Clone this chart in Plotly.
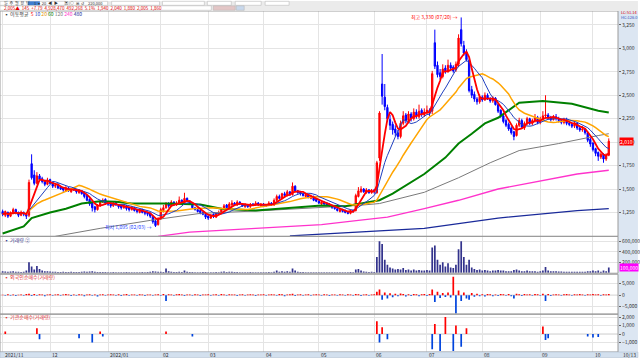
import plotly.graph_objects as go
import pandas as pd

# ---------------- data ----------------
month_idx = [0, 18, 40, 60, 78, 99, 120, 141, 161, 182, 204, 224]
month_lbl = ["2021/11", "12", "2022/01", "02", "03", "04", "05", "06", "07", "08", "09", "10"]

close = [1230, 1260, 1210, 1250, 1280, 1240, 1220, 1250, 1230, 1210,
         1570, 1620, 1560, 1640, 1600, 1580, 1550, 1590, 1560, 1530,
         1540, 1510, 1500, 1490, 1510, 1480, 1500, 1490, 1470, 1480,
         1450, 1420, 1380, 1340, 1300, 1280, 1330, 1360, 1380, 1350,
         1340, 1320, 1350, 1330, 1310, 1300, 1320, 1290, 1280, 1300,
         1270, 1260, 1280, 1250, 1240, 1230, 1210, 1150, 1110, 1180,
         1280, 1300, 1340, 1320, 1360, 1330, 1350, 1380, 1360, 1400,
         1370, 1340, 1300, 1280, 1260, 1250, 1230, 1200, 1190, 1220,
         1210, 1240, 1250, 1280, 1320, 1300, 1340, 1350, 1330, 1360,
         1340, 1320, 1330, 1310, 1340, 1330, 1350, 1330, 1340, 1320,
         1330, 1350, 1330, 1380, 1420, 1400, 1450, 1430, 1470, 1440,
         1530, 1480, 1460, 1450, 1430, 1440, 1410, 1420, 1380, 1370,
         1350, 1360, 1340, 1330, 1320, 1300, 1290, 1270, 1280, 1260,
         1250, 1240, 1270, 1260, 1430, 1480, 1500, 1470, 1490, 1460,
         1480, 1470, 1780, 2310, 2490, 2380, 2250, 2180, 2130, 2100,
         2060, 2200, 2280, 2230, 2300, 2250, 2320, 2280, 2330, 2300,
         2320, 2340, 2310, 2730, 2810, 2720, 2700, 2780, 2760, 2820,
         2790, 2760, 2830, 3110, 3050, 2950, 2880, 2550, 2500, 2460,
         2430, 2480, 2450, 2500, 2460, 2440, 2470, 2400, 2330, 2280,
         2220, 2180, 2140, 2100, 2060, 2180, 2230, 2160, 2200, 2250,
         2200, 2230, 2260, 2210, 2250, 2280, 2290, 2260, 2240, 2270,
         2250, 2230, 2210, 2240, 2200, 2190, 2170, 2200, 2150, 2130,
         2140, 2100, 2020, 1980, 1920, 1880, 1850, 1870, 1820, 1860, 2010]

open_ = [1260, 1220, 1250, 1210, 1240, 1280, 1250, 1220, 1250, 1230,
         1220, 1770, 1650, 1560, 1640, 1610, 1590, 1550, 1600, 1570,
         1530, 1550, 1520, 1510, 1480, 1510, 1470, 1510, 1490, 1460,
         1480, 1460, 1430, 1390, 1350, 1310, 1280, 1320, 1360, 1390,
         1350, 1350, 1320, 1360, 1330, 1320, 1300, 1320, 1300, 1280,
         1300, 1280, 1250, 1280, 1260, 1250, 1240, 1210, 1160, 1120,
         1180, 1270, 1300, 1340, 1320, 1360, 1330, 1350, 1380, 1350,
         1400, 1370, 1340, 1300, 1280, 1270, 1250, 1230, 1210, 1190,
         1230, 1200, 1240, 1250, 1280, 1330, 1300, 1330, 1350, 1330,
         1360, 1340, 1310, 1330, 1310, 1340, 1330, 1350, 1320, 1340,
         1320, 1330, 1350, 1330, 1380, 1420, 1400, 1450, 1430, 1470,
         1440, 1530, 1480, 1470, 1450, 1420, 1440, 1400, 1420, 1390,
         1370, 1340, 1360, 1350, 1340, 1320, 1310, 1290, 1260, 1280,
         1270, 1250, 1240, 1270, 1270, 1420, 1470, 1500, 1460, 1490,
         1460, 1490, 1460, 1830, 2620, 2480, 2370, 2240, 2190, 2140,
         2100, 2060, 2200, 2290, 2230, 2300, 2250, 2320, 2270, 2340,
         2290, 2320, 2340, 2330, 3060, 2820, 2740, 2700, 2790, 2760,
         2820, 2800, 2770, 2830, 3200, 3030, 2960, 2870, 2560, 2510,
         2460, 2430, 2480, 2450, 2500, 2460, 2440, 2470, 2400, 2340,
         2280, 2230, 2190, 2150, 2110, 2070, 2180, 2230, 2150, 2200,
         2250, 2200, 2230, 2260, 2210, 2250, 2280, 2290, 2260, 2240,
         2270, 2250, 2230, 2210, 2240, 2200, 2190, 2170, 2200, 2150,
         2130, 2140, 2100, 2030, 1990, 1930, 1890, 1840, 1870, 1820, 1860]

high = [1280, 1270, 1260, 1260, 1300, 1290, 1260, 1270, 1260, 1240,
        1600, 1870, 1700, 1680, 1660, 1630, 1600, 1620, 1610, 1580,
        1560, 1560, 1530, 1520, 1530, 1520, 1510, 1520, 1500, 1500,
        1490, 1470, 1440, 1400, 1360, 1320, 1340, 1380, 1400, 1400,
        1370, 1360, 1370, 1370, 1340, 1330, 1340, 1330, 1310, 1320,
        1310, 1290, 1290, 1290, 1270, 1260, 1250, 1220, 1170, 1200,
        1300, 1330, 1360, 1360, 1380, 1370, 1370, 1420, 1390, 1460,
        1410, 1380, 1350, 1310, 1300, 1280, 1260, 1240, 1220, 1230,
        1240, 1250, 1270, 1300, 1340, 1340, 1360, 1380, 1360, 1380,
        1370, 1350, 1350, 1340, 1350, 1350, 1370, 1360, 1350, 1350,
        1340, 1370, 1360, 1400, 1440, 1440, 1460, 1470, 1490, 1480,
        1570, 1540, 1490, 1480, 1460, 1450, 1450, 1440, 1430, 1400,
        1380, 1370, 1370, 1360, 1350, 1330, 1320, 1300, 1290, 1290,
        1280, 1260, 1280, 1280, 1450, 1520, 1530, 1510, 1510, 1500,
        1500, 1500, 1800, 2330, 2940, 2620, 2400, 2290, 2220, 2180,
        2130, 2230, 2330, 2310, 2330, 2320, 2360, 2350, 2400, 2360,
        2360, 2390, 2360, 2760, 3200, 2860, 2780, 2830, 2820, 2880,
        2850, 2820, 2860, 3150, 3330, 3080, 2990, 2890, 2600, 2540,
        2480, 2510, 2500, 2530, 2520, 2480, 2490, 2480, 2410, 2350,
        2300, 2250, 2210, 2170, 2120, 2200, 2260, 2250, 2220, 2270,
        2260, 2250, 2300, 2280, 2270, 2330, 2500, 2310, 2280, 2290,
        2300, 2270, 2250, 2260, 2260, 2220, 2210, 2230, 2210, 2170,
        2170, 2150, 2110, 2050, 2000, 1940, 1900, 1890, 1880, 1880, 2040]

low = [1210, 1200, 1190, 1200, 1230, 1230, 1200, 1210, 1210, 1180,
       1200, 1600, 1540, 1550, 1580, 1560, 1530, 1540, 1550, 1510,
       1510, 1500, 1490, 1470, 1470, 1470, 1460, 1480, 1450, 1450,
       1440, 1400, 1370, 1320, 1260, 1250, 1270, 1310, 1350, 1330,
       1320, 1300, 1310, 1320, 1290, 1280, 1290, 1270, 1260, 1270,
       1260, 1240, 1240, 1240, 1220, 1210, 1190, 1130, 1095, 1110,
       1170, 1250, 1290, 1300, 1310, 1320, 1320, 1340, 1340, 1340,
       1360, 1330, 1290, 1270, 1250, 1230, 1220, 1180, 1170, 1180,
       1190, 1190, 1230, 1240, 1270, 1290, 1290, 1320, 1320, 1320,
       1330, 1310, 1300, 1300, 1300, 1320, 1320, 1320, 1310, 1310,
       1310, 1320, 1320, 1320, 1370, 1390, 1390, 1420, 1420, 1430,
       1430, 1470, 1450, 1430, 1420, 1410, 1400, 1390, 1370, 1360,
       1340, 1330, 1330, 1320, 1310, 1290, 1280, 1260, 1250, 1250,
       1240, 1230, 1230, 1250, 1260, 1410, 1460, 1460, 1450, 1450,
       1450, 1450, 1450, 1800, 2400, 2340, 2220, 2130, 2080, 2060,
       2030, 2040, 2180, 2200, 2200, 2220, 2230, 2250, 2250, 2270,
       2270, 2300, 2280, 2300, 2780, 2690, 2670, 2680, 2730, 2740,
       2760, 2740, 2750, 2800, 3020, 2920, 2860, 2530, 2470, 2430,
       2400, 2410, 2430, 2440, 2450, 2420, 2420, 2390, 2310, 2260,
       2200, 2160, 2120, 2080, 2020, 2060, 2160, 2140, 2130, 2180,
       2180, 2180, 2210, 2190, 2190, 2240, 2260, 2240, 2220, 2230,
       2230, 2210, 2190, 2190, 2180, 2170, 2150, 2150, 2130, 2110,
       2110, 2080, 2000, 1950, 1900, 1850, 1800, 1820, 1780, 1800, 1850]

volume = [30000, 25000, 20000, 25000, 30000, 20000, 20000, 15000, 20000, 40000,
          200000, 120000, 60000, 130000, 70000, 40000, 30000, 30000, 25000, 20000,
          20000, 15000, 15000, 20000, 15000, 15000, 20000, 15000, 15000, 15000,
          20000, 25000, 20000, 25000, 30000, 20000, 15000, 15000, 15000, 15000,
          10000, 10000, 15000, 10000, 10000, 10000, 10000, 15000, 10000, 10000,
          10000, 10000, 10000, 15000, 10000, 15000, 20000, 30000, 25000, 20000,
          20000, 15000, 80000, 30000, 20000, 15000, 15000, 20000, 15000, 40000,
          20000, 15000, 15000, 10000, 10000, 10000, 15000, 15000, 10000, 10000,
          10000, 15000, 10000, 20000, 25000, 15000, 20000, 20000, 15000, 15000,
          10000, 10000, 10000, 10000, 15000, 10000, 10000, 10000, 10000, 10000,
          10000, 15000, 10000, 20000, 40000, 20000, 30000, 20000, 30000, 20000,
          80000, 40000, 20000, 15000, 15000, 10000, 10000, 10000, 10000, 10000,
          10000, 10000, 10000, 10000, 10000, 10000, 10000, 10000, 10000, 10000,
          10000, 10000, 15000, 10000, 60000, 70000, 40000, 25000, 20000, 15000,
          20000, 15000, 300000, 600000, 550000, 250000, 150000, 100000, 80000, 60000,
          70000, 60000, 90000, 50000, 60000, 40000, 60000, 40000, 50000, 40000,
          40000, 50000, 40000, 480000, 520000, 250000, 150000, 200000, 120000, 180000,
          100000, 90000, 150000, 450000, 600000, 300000, 150000, 250000, 100000, 70000,
          50000, 60000, 40000, 50000, 40000, 30000, 40000, 40000, 50000, 40000,
          40000, 30000, 30000, 30000, 50000, 60000, 40000, 30000, 30000, 40000,
          30000, 30000, 30000, 20000, 30000, 40000, 110000, 40000, 30000, 30000,
          30000, 25000, 25000, 20000, 20000, 20000, 20000, 20000, 20000, 20000,
          20000, 20000, 30000, 30000, 40000, 30000, 40000, 20000, 40000, 30000, 100000]

foreign = [200, -300, 400, -200, 300, -400, 200, 300, -300, 500,
           600, -400, 500, -300, 400, 300, -500, 300, 400, -300,
           300, 400, -300, 300, 500, 300, -400, 300, -300, 400,
           300, -500, 300, 400, -300, 300, -600, 300, 400, -300,
           300, 400, 300, -300, 400, -400, 300, 500, -300, 300,
           300, -300, 400, 300, -400, 300, 300, -300, 300, 400,
           -300, 500, -2500, 400, 300, -300, 400, 500, 300, -400,
           300, 300, -300, 400, 300, -400, 300, 300, 400, -300,
           300, 400, -300, 500, 300, -300, 400, 300, 300, -400,
           300, 400, -300, 300, 400, 300, -400, 300, 300, 400,
           -300, 300, 400, 300, -300, 500, 400, -500, 300, 400,
           600, -400, 300, 400, -300, 300, 400, -300, 300, 400,
           300, -300, 400, 300, -400, 300, 300, -300, 400, 300,
           -300, 400, 300, -300, 500, 400, -400, 300, 400, -300,
           300, 400, 1500, 2500, -2000, 1200, -1500, 800, -900, 600,
           -500, 700, 500, -600, 400, -400, 500, 400, -500, 400,
           500, -400, 500, 2500, -3000, 1500, -1200, 1000, -800, 1200,
           -1000, 8000, -8000, 2000, -2500, 1200, -1500, -2000, 900, -700,
           600, -500, 400, -600, 500, 400, -500, 300, -400, 500,
           400, -300, 500, -500, -1500, 600, 400, -400, 500, 300,
           400, -300, 500, 400, -300, 600, -2500, 500, -400, 300,
           400, 300, -300, 400, 500, 300, -300, 400, 300, 500,
           300, -300, 400, 300, 500, 300, 400, -300, 400, 300, 500]

inst_idx = [1, 13, 14, 29, 34, 37, 38, 62, 72, 142, 143, 144, 146, 163, 164, 166, 168, 171, 172, 174, 176, 205, 206, 207, 222, 224, 226]
inst_val = [300, 700, -600, -500, -1000, 300, -300, 300, -300, 1500, -1000, 800, -600, -1800, 1200, -2000, 2000, -2000, 1000, -1500, 700, 900, -700, -500, -300, -400, -350]

ma60_idx = [0, 8, 11, 18, 24, 30, 37, 43, 49, 62, 75, 83, 96, 109, 121, 130, 136, 143, 148, 160, 168, 173, 178, 183, 188, 196, 205, 216, 226, 230]
ma60_val = [1025, 1100, 1190, 1250, 1290, 1345, 1370, 1365, 1345, 1345, 1335, 1290, 1270, 1300, 1325, 1315, 1345, 1380, 1450, 1660, 1835, 1985, 2090, 2200, 2260, 2420, 2440, 2410, 2335, 2315]
ma120_idx = [20, 37, 56, 75, 96, 121, 135, 143, 160, 173, 185, 196, 211, 226, 230]
ma120_val = [995, 1080, 1165, 1240, 1265, 1300, 1325, 1345, 1465, 1620, 1780, 1910, 1985, 2070, 2090]
ma240_idx = [59, 71, 96, 121, 135, 146, 160, 173, 188, 203, 218, 230]
ma240_val = [995, 1040, 1080, 1120, 1165, 1200, 1290, 1380, 1500, 1580, 1660, 1700]
ma480_idx = [109, 135, 160, 188, 218, 230]
ma480_val = [1000, 1040, 1080, 1190, 1270, 1290]

price_ticks = [1250, 1500, 1750, 2000, 2250, 2500, 2750, 3000, 3250]
vol_ticks = [200000, 400000, 600000]
for_ticks = [-5000, 0, 5000]
inst_ticks = [-1000, 0, 1000, 2000]

# ---------------- figure ----------------
FONT = "Noto Sans CJK KR"
N = len(close)
x = list(range(N))

def py(px):
    return 1 - px / 360.0

def pxx(px):
    return px / 620.0

fig = go.Figure()

fig.add_trace(go.Candlestick(
    x=x, open=open_, high=high, low=low, close=close,
    increasing=dict(line=dict(color="#ff0000", width=1), fillcolor="#ff0000"),
    decreasing=dict(line=dict(color="#0000ff", width=1), fillcolor="#0000ff"),
    whiskerwidth=0, xaxis="x", yaxis="y", showlegend=False, hoverinfo="skip"))

s = pd.Series(close, dtype=float)
ma5 = s.rolling(5, min_periods=1).mean()
ma10 = s.rolling(10, min_periods=1).mean()
ma20 = s.rolling(20, min_periods=1).mean()

def line(xs, ys, color, width):
    fig.add_trace(go.Scatter(x=xs, y=ys, mode="lines", line=dict(color=color, width=width),
                             xaxis="x", yaxis="y", showlegend=False, hoverinfo="skip"))

line(ma480_idx, ma480_val, "#1a2a9a", 1.3)
line(ma240_idx, ma240_val, "#ff33cc", 1.3)
line(ma120_idx, ma120_val, "#7a7a7a", 1)
line(ma60_idx, ma60_val, "#008000", 2)
line(x, ma20, "#ffa500", 1.5)
line(x, ma10, "#1f3fbf", 1)
line(x, ma5, "#ff0000", 1.8)

fig.add_trace(go.Bar(x=x, y=volume, marker=dict(color="#33338c", line=dict(width=0)),
                     xaxis="x2", yaxis="y2", showlegend=False, hoverinfo="skip"))
fig.add_trace(go.Bar(x=x, y=foreign,
                     marker=dict(color=["#ff0000" if v >= 0 else "#0044dd" for v in foreign], line=dict(width=0)),
                     xaxis="x3", yaxis="y3", showlegend=False, hoverinfo="skip"))
fig.add_trace(go.Bar(x=inst_idx, y=inst_val,
                     marker=dict(color=["#ff0000" if v >= 0 else "#0044dd" for v in inst_val], line=dict(width=0)),
                     xaxis="x4", yaxis="y4", showlegend=False, hoverinfo="skip"))

xr = [-1, 233.5]
xcommon = dict(range=xr, tickvals=month_idx, showticklabels=False, showgrid=True,
               gridcolor="#e4e4e4", gridwidth=1, zeroline=False, ticks="", fixedrange=True,
               showline=False)
ycommon = dict(side="right", showgrid=True, gridcolor="#e4e4e4", zeroline=False,
               ticks="outside", ticklen=2, tickcolor="#666", tickformat=",",
               tickfont=dict(size=5, color="#333", family=FONT), showline=False, fixedrange=True)

fig.update_layout(
    width=640, height=360, margin=dict(l=0, r=20, t=0, b=0),
    paper_bgcolor="white", plot_bgcolor="white", bargap=0.35,
    font=dict(family=FONT, size=5, color="#333"),
    xaxis=dict(xcommon, domain=[0, 1], anchor="y", rangeslider=dict(visible=False)),
    xaxis2=dict(xcommon, domain=[0, 1], anchor="y2", matches="x"),
    xaxis3=dict(xcommon, domain=[0, 1], anchor="y3", matches="x"),
    xaxis4=dict(xcommon, domain=[0, 1], anchor="y4", matches="x"),
    yaxis=dict(ycommon, domain=[py(236), py(10)], range=[995, 3399], tickvals=price_ticks),
    yaxis2=dict(ycommon, domain=[py(273), py(236)], range=[-10000, 695000], tickvals=vol_ticks),
    yaxis3=dict(ycommon, domain=[py(314), py(274)], range=[-8260, 9130], tickvals=for_ticks),
    yaxis4=dict(ycommon, domain=[py(352), py(314)], range=[-2118, 2353], tickvals=inst_ticks),
)

shapes = []
ann = []

# right axis background
shapes.append(dict(type="rect", xref="paper", yref="paper", x0=1, x1=640 / 620, y0=py(352), y1=py(10),
                   fillcolor="#dce6f2", line=dict(width=0), layer="below"))
# panel frames
for top, bot in [(10, 236), (236, 273), (274, 314), (314, 352)]:
    shapes.append(dict(type="rect", xref="paper", yref="paper", x0=0, x1=1, y0=py(bot), y1=py(top),
                       line=dict(color="#9a9a9a", width=1), fillcolor="rgba(0,0,0,0)", layer="above"))
# zero lines for bar panels
for ya in ["y3", "y4"]:
    shapes.append(dict(type="line", xref="paper", yref=ya, x0=0, x1=1, y0=0, y1=0,
                       line=dict(color="#c8c8c8", width=1), layer="below"))
# x-axis label strip
shapes.append(dict(type="rect", xref="paper", yref="paper", x0=0, x1=640 / 620, y0=py(357.5), y1=py(352),
                   fillcolor="#d3e0ee", line=dict(color="#a8b8cc", width=0.5)))
for mi, lab in zip(month_idx, month_lbl):
    ann.append(dict(x=mi, xref="x", y=py(354.8), yref="paper", text=lab, showarrow=False,
                    xanchor="left", yanchor="middle", xshift=0, font=dict(size=5, color="#333")))
ann.append(dict(x=1.005, xref="paper", y=py(354.8), yref="paper", text="10/13", showarrow=False,
                xanchor="left", yanchor="middle", font=dict(size=5, color="#333")))

# top toolbar
shapes.append(dict(type="rect", xref="paper", yref="paper", x0=0, x1=640 / 620, y0=py(10), y1=py(0),
                   fillcolor="#ebebeb", line=dict(width=0)))
for a, b in [(0, 50), (52, 66), (70, 108), (112, 160), (163, 205), (208, 232), (236, 262), (266, 290)]:
    shapes.append(dict(type="rect", xref="paper", yref="paper", x0=pxx(a), x1=pxx(b), y0=py(4.3), y1=py(0.3),
                       fillcolor="white", line=dict(color="#b0b0b0", width=0.5)))
shapes.append(dict(type="rect", xref="paper", yref="paper", x0=pxx(28), x1=pxx(40), y0=py(4.3), y1=py(0.3),
                   fillcolor="#3f7fd0", line=dict(width=0)))
shapes.append(dict(type="rect", xref="paper", yref="paper", x0=pxx(0), x1=pxx(212), y0=py(9.3), y1=py(4.8),
                   fillcolor="white", line=dict(color="#b0b0b0", width=0.5)))
shapes.append(dict(type="rect", xref="paper", yref="paper", x0=pxx(214), x1=pxx(236), y0=py(9.3), y1=py(4.8),
                   fillcolor="#e3c6c6", line=dict(color="#b0b0b0", width=0.5)))
shapes.append(dict(type="rect", xref="paper", yref="paper", x0=pxx(237), x1=pxx(245), y0=py(9.3), y1=py(4.8),
                   fillcolor="#c8d8ec", line=dict(color="#b0b0b0", width=0.5)))
ann.append(dict(x=pxx(2), xref="paper", y=py(7), yref="paper", showarrow=False, xanchor="left",
                yanchor="middle", font=dict(size=4.5, color="#e00000"),
                text="2,005▲  145  +7.79  4,928,470  492,268  5.1%  1,940  2,040  1,880  2,005  1,860"))
ann.append(dict(x=pxx(2), xref="paper", y=py(2.3), yref="paper", showarrow=False, xanchor="left",
                yanchor="middle", font=dict(size=4, color="#333"),
                text="일  주  월  분  틱     1  ▾  20  ◀  ▶       ▣  ◇  ⊞  ↺     220,000"))

# legend
ann.append(dict(x=pxx(2), xref="paper", y=py(13.5), yref="paper", showarrow=False, xanchor="left",
                yanchor="middle", font=dict(size=5),
                text="▪ 이동평균  <span style='color:#ff0000'>5</span> <span style='color:#1f3fbf'>10</span> "
                     "<span style='color:#e69500'>20</span> <span style='color:#008000'>60</span> "
                     "<span style='color:#7a7a7a'>120</span> <span style='color:#ff33cc'>240</span> "
                     "<span style='color:#1a2a9a'>480</span>"))
ann.append(dict(x=1.003, xref="paper", y=py(11.5), yref="paper", showarrow=False, xanchor="left",
                yanchor="middle", font=dict(size=4, color="#e00000"), text="LC:51.14", borderpad=0))
ann.append(dict(x=1.003, xref="paper", y=py(16.5), yref="paper", showarrow=False, xanchor="left",
                yanchor="middle", font=dict(size=4, color="#3050c0"), text="HC:126.0", borderpad=0))

# panel titles
ann.append(dict(x=pxx(2), xref="paper", y=py(239.5), yref="paper", showarrow=False, xanchor="left",
                yanchor="middle", font=dict(size=5, color="#3a3a8a"), text="▪ 거래량 ②"))
ann.append(dict(x=pxx(2), xref="paper", y=py(277), yref="paper", showarrow=False, xanchor="left",
                yanchor="middle", font=dict(size=5, color="#e03030"), text="▪ 외국인순매수(거래량)"))
ann.append(dict(x=pxx(2), xref="paper", y=py(317), yref="paper", showarrow=False, xanchor="left",
                yanchor="middle", font=dict(size=5, color="#e03030"), text="▪ 기관순매수(거래량)"))

# high / low markers
hi_i = max(range(N), key=lambda i: high[i])
lo_i = min(range(N), key=lambda i: low[i])
ann.append(dict(x=hi_i, xref="x", y=high[hi_i], yref="y", showarrow=False, xanchor="right",
                yanchor="middle", xshift=-1, font=dict(size=5, color="#ff0000"),
                text=f"최고 {high[hi_i]:,} (07/20) →"))
ann.append(dict(x=lo_i, xref="x", y=low[lo_i], yref="y", showarrow=False, xanchor="right",
                yanchor="middle", xshift=-1, font=dict(size=5, color="#2040ff"),
                text=f"최저 {low[lo_i]:,} (02/03) →"))

# current value boxes on right axis
ann.append(dict(x=1.0, xref="paper", y=close[-1], yref="y", showarrow=False, xanchor="left",
                yanchor="middle", xshift=1, bgcolor="#ff0000", font=dict(size=5, color="white"),
                text=f"{close[-1]:,}", borderpad=0))
ann.append(dict(x=1.0, xref="paper", y=volume[-1], yref="y2", showarrow=False, xanchor="left",
                yanchor="middle", xshift=1, bgcolor="#ff00ff", font=dict(size=5, color="white"),
                text=f"{volume[-1]:,}", borderpad=0))

fig.update_layout(shapes=shapes, annotations=ann)
fig.write_html("out.html", config={"displayModeBar": False, "staticPlot": True},
               post_script="document.body.style.margin='0';document.body.style.overflow='hidden';")
